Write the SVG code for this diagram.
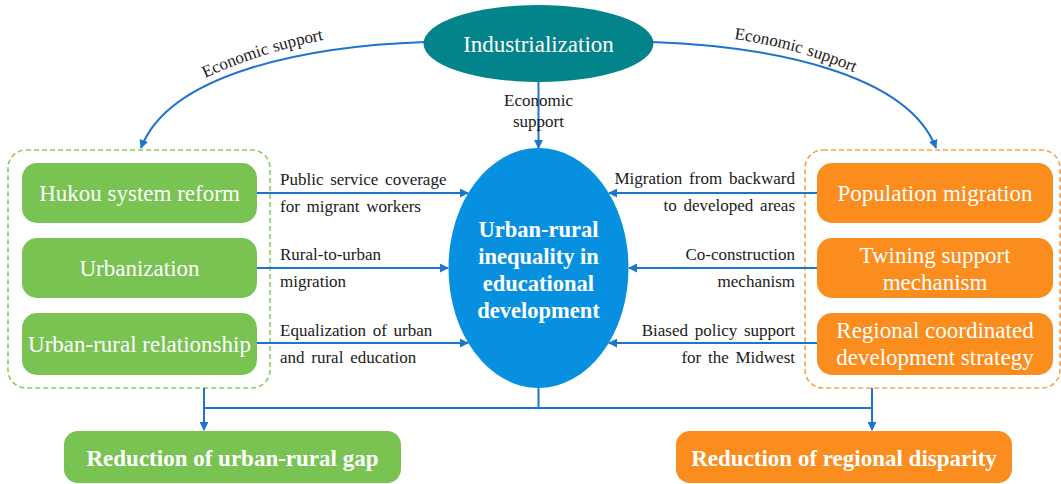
<svg xmlns="http://www.w3.org/2000/svg" width="1061" height="484" viewBox="0 0 1061 484">
  <style>
    text { font-family: "Liberation Serif", "Times New Roman", serif; }
    .lbl { font-size: 17px; fill: #1a1a1a; word-spacing: 2.5px; }
    .curved { word-spacing: 1px; }
    .node { font-size: 23px; fill: #ffffff; text-anchor: middle; }
    .core { font-size: 22.5px; font-weight: bold; }
    .bold { font-weight: bold; }
    .green { fill: #79C353; }
    .orange { fill: #FB8C1E; }
    .conn { fill: none; stroke: #1C74CF; stroke-width: 2; }
  </style>
  <defs>
    <marker id="arrow" viewBox="0 0 10 10" refX="9" refY="5" markerWidth="9" markerHeight="9" markerUnits="userSpaceOnUse" orient="auto">
      <path d="M0,0 L10,5 L0,10 z" fill="#1C74CF"/>
    </marker>
    <path id="lblPathL" d="M205,78 Q265,50 343,36"/>
    <path id="lblPathR" d="M734,39 Q801,48 867,78"/>
  </defs>

  <rect width="1061" height="484" fill="#ffffff"/>

  <!-- group frames -->
  <rect id="frameLeft" x="8" y="150" width="262" height="238" rx="18" fill="none" stroke="#8FCB5E" stroke-width="1.6" stroke-dasharray="5 3"/>
  <rect id="frameRight" x="805" y="150" width="255" height="238" rx="18" fill="none" stroke="#F7A34E" stroke-width="1.6" stroke-dasharray="5 3"/>

  <!-- connectors -->
  <g id="connectors">
    <path class="conn" d="M425,42 C310,46 170,72 141,148" marker-end="url(#arrow)"/>
    <path class="conn" d="M652,42 C767,46 907,72 936,148" marker-end="url(#arrow)"/>
    <path class="conn" d="M538.5,82 L538.5,148" marker-end="url(#arrow)"/>

    <path class="conn" d="M257,193 L468,193" marker-end="url(#arrow)"/>
    <path class="conn" d="M257,268 L448,268" marker-end="url(#arrow)"/>
    <path class="conn" d="M257,343 L468,343" marker-end="url(#arrow)"/>

    <path class="conn" d="M817,193 L609,193" marker-end="url(#arrow)"/>
    <path class="conn" d="M817,268 L629,268" marker-end="url(#arrow)"/>
    <path class="conn" d="M817,343 L609,343" marker-end="url(#arrow)"/>

    <path class="conn" d="M538.5,388 L538.5,408 M204,408 L872,408"/>
    <path class="conn" d="M204,388 L204,430" marker-end="url(#arrow)"/>
    <path class="conn" d="M872,388 L872,430" marker-end="url(#arrow)"/>

    <text class="lbl curved"><textPath href="#lblPathL">Economic support</textPath></text>
    <text class="lbl curved"><textPath href="#lblPathR">Economic support</textPath></text>
    <text class="lbl" x="538.5" y="106" text-anchor="middle">Economic</text>
    <text class="lbl" x="538.5" y="127" text-anchor="middle">support</text>

    <text class="lbl" x="280" y="185">Public service coverage</text>
    <text class="lbl" x="280" y="212">for migrant workers</text>
    <text class="lbl" x="280" y="260">Rural-to-urban</text>
    <text class="lbl" x="280" y="287">migration</text>
    <text class="lbl" x="280" y="336">Equalization of urban</text>
    <text class="lbl" x="280" y="363">and rural education</text>

    <text class="lbl" x="795" y="184" text-anchor="end">Migration from backward</text>
    <text class="lbl" x="795" y="211" text-anchor="end">to developed areas</text>
    <text class="lbl" x="795" y="260" text-anchor="end">Co-construction</text>
    <text class="lbl" x="795" y="287" text-anchor="end">mechanism</text>
    <text class="lbl" x="795" y="336" text-anchor="end">Biased policy support</text>
    <text class="lbl" x="795" y="363" text-anchor="end">for the Midwest</text>
  </g>

  <!-- top driver -->
  <g id="industrialization">
    <ellipse cx="538.5" cy="43.5" rx="115" ry="38.5" fill="#03838A"/>
    <text class="node" x="538.5" y="52">Industrialization</text>
  </g>

  <!-- central outcome -->
  <g id="inequality">
    <ellipse cx="538.5" cy="268" rx="90" ry="120" fill="#0890E0"/>
    <text class="node core" x="538.5" y="237">Urban-rural</text>
    <text class="node core" x="538.5" y="264">inequality in</text>
    <text class="node core" x="538.5" y="291">educational</text>
    <text class="node core" x="538.5" y="318">development</text>
  </g>

  <!-- urban-rural factors -->
  <g id="hukou">
    <rect class="green" x="22" y="163" width="235" height="60" rx="15"/>
    <text class="node" x="139.5" y="201">Hukou system reform</text>
  </g>
  <g id="urbanization">
    <rect class="green" x="22" y="238" width="235" height="60" rx="15"/>
    <text class="node" x="139.5" y="276">Urbanization</text>
  </g>
  <g id="urbanRuralRelationship">
    <rect class="green" x="22" y="313" width="235" height="62" rx="15"/>
    <text class="node" x="139.5" y="352">Urban-rural relationship</text>
  </g>

  <!-- regional factors -->
  <g id="populationMigration">
    <rect class="orange" x="817" y="163" width="236" height="60" rx="15"/>
    <text class="node" x="935" y="201">Population migration</text>
  </g>
  <g id="twiningSupport">
    <rect class="orange" x="817" y="238" width="236" height="60" rx="15"/>
    <text class="node" x="935" y="263">Twining support</text>
    <text class="node" x="935" y="290">mechanism</text>
  </g>
  <g id="regionalStrategy">
    <rect class="orange" x="817" y="313" width="236" height="62" rx="15"/>
    <text class="node" x="935" y="338">Regional coordinated</text>
    <text class="node" x="935" y="365">development strategy</text>
  </g>

  <!-- results -->
  <g id="urbanRuralGap">
    <rect class="green" x="64" y="431" width="337" height="52" rx="14"/>
    <text class="node bold" x="232.5" y="466">Reduction of urban-rural gap</text>
  </g>
  <g id="regionalDisparity">
    <rect class="orange" x="676" y="431" width="336" height="52" rx="14"/>
    <text class="node bold" x="844" y="466">Reduction of regional disparity</text>
  </g>
</svg>
